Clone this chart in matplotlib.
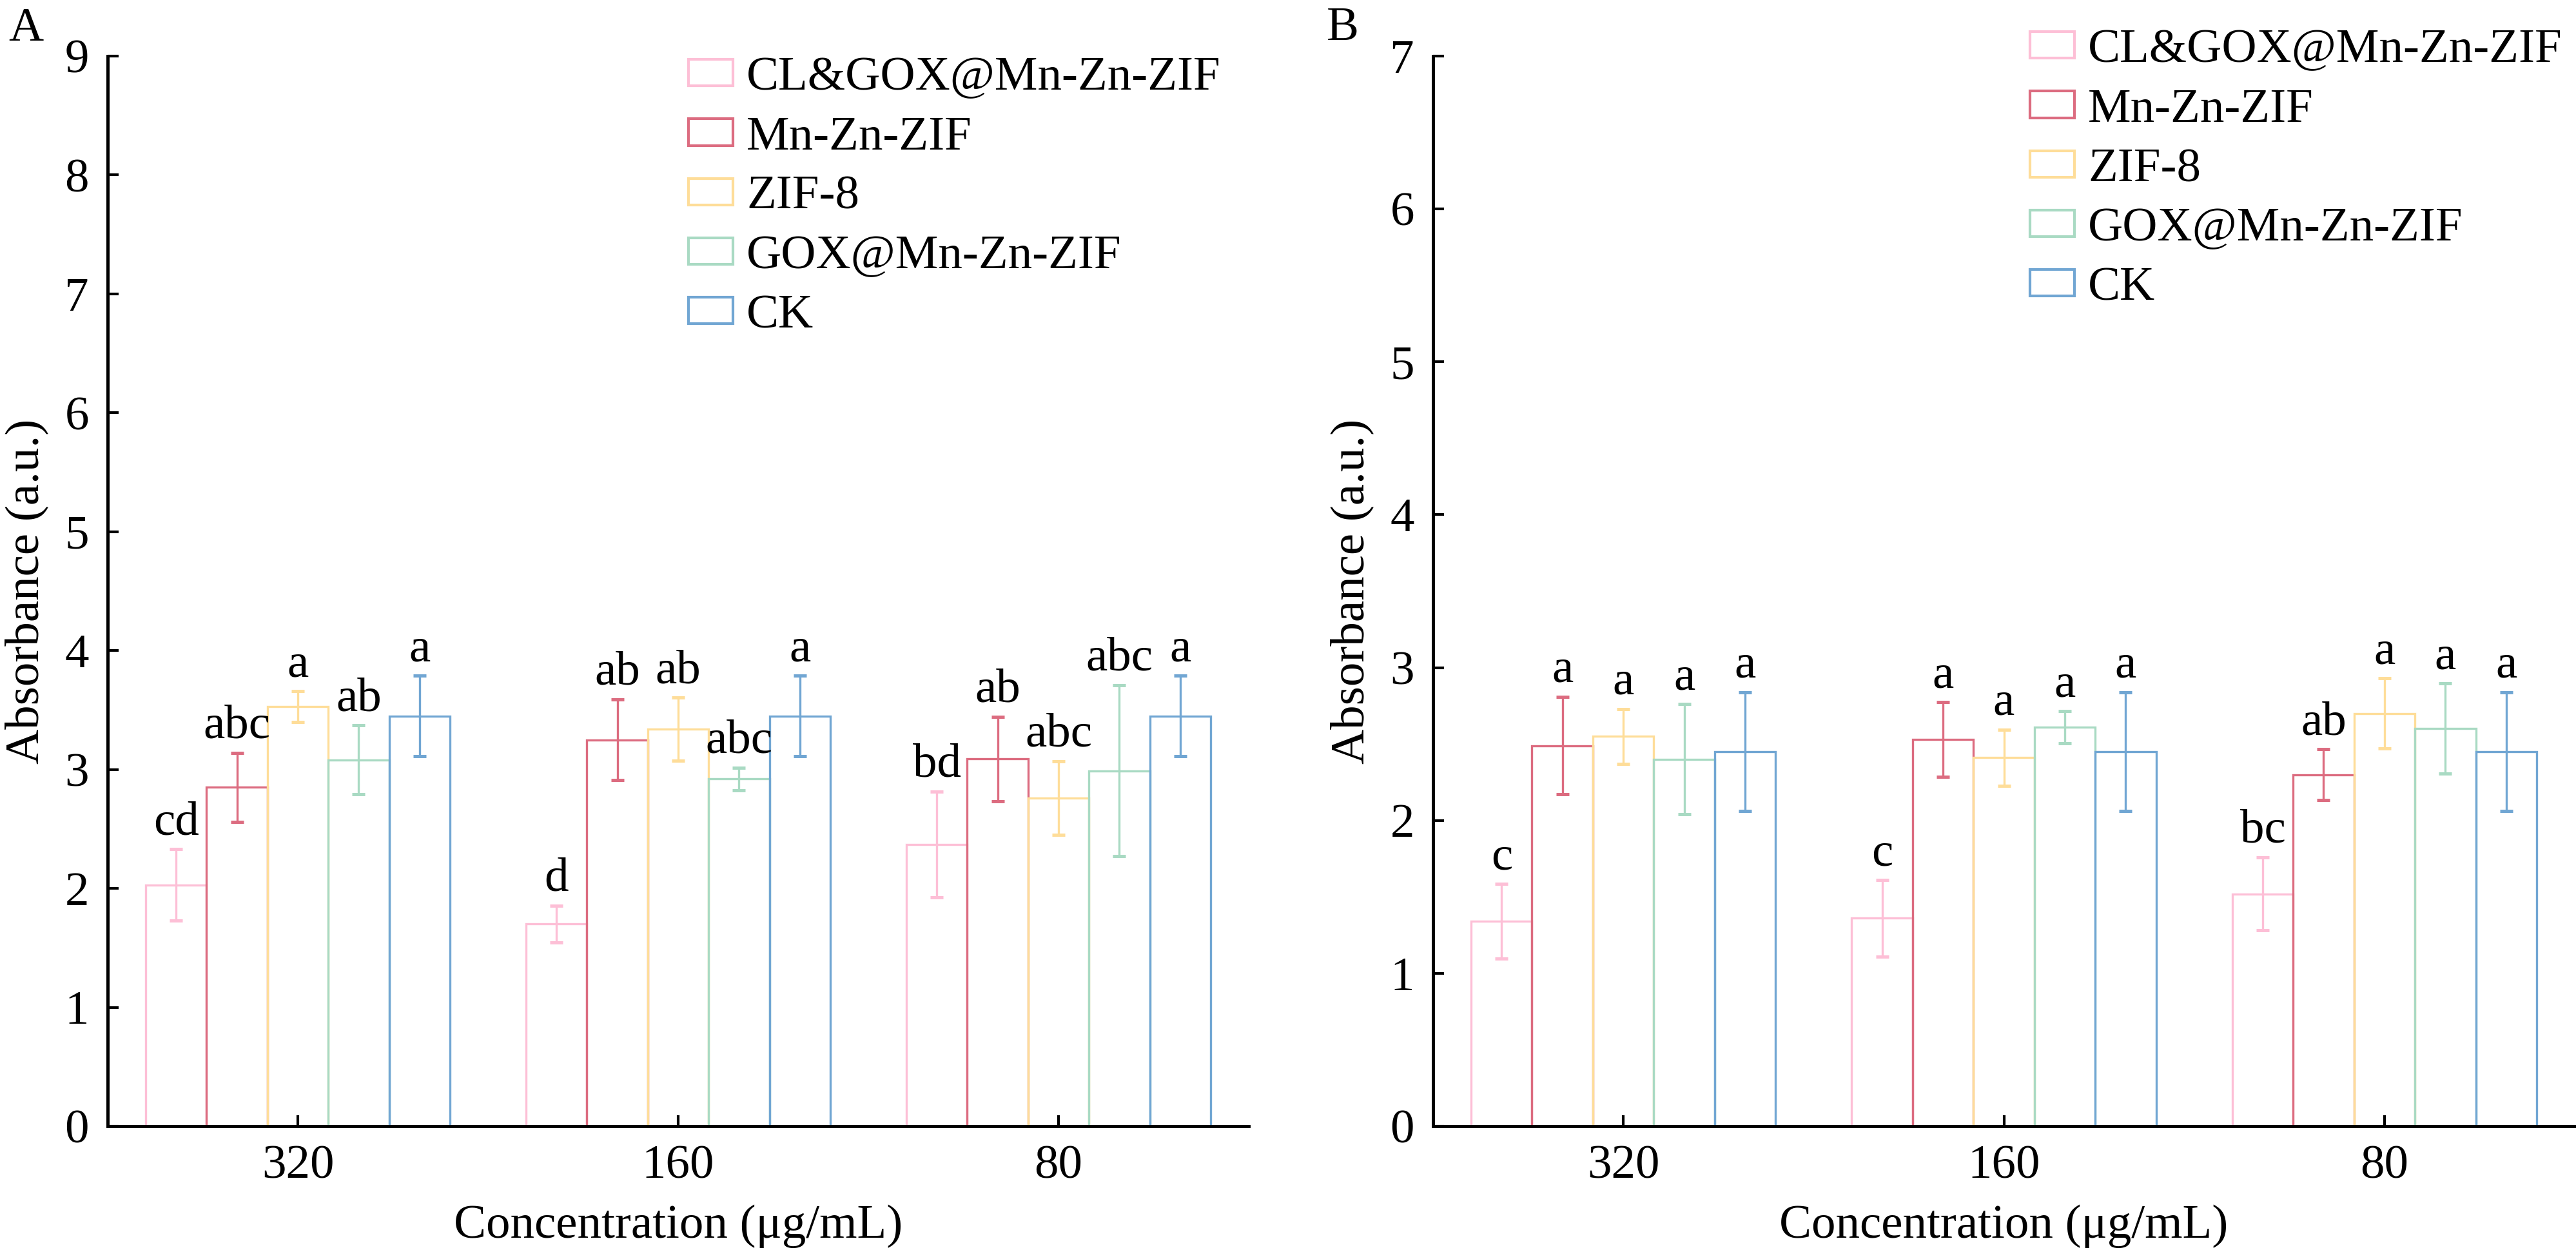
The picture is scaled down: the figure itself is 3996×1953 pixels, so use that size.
import matplotlib
matplotlib.use("Agg")
import matplotlib.pyplot as plt
import numpy as np

plt.rcParams['font.family'] = ['Liberation Serif', 'DejaVu Serif']
plt.rcParams['font.size'] = 18

groups = ['CL&GOX@Mn-Zn-ZIF', 'Mn-Zn-ZIF', 'ZIF-8', 'GOX@Mn-Zn-ZIF', 'CK']
colors = ['#FDBFD6', '#DC6C80', '#FEDD99', '#A9DAC3', '#71A6D3']
concentrations = ['320', '160', '80']

# panel A: rows = groups, columns = concentrations
meansA = [[2.03, 1.70, 2.37],
          [2.85, 3.25, 3.09],
          [3.53, 3.34, 2.76],
          [3.08, 2.92, 2.99],
          [3.45, 3.45, 3.45]]
errsA = [[0.30, 0.155, 0.445],
         [0.29, 0.34, 0.355],
         [0.13, 0.265, 0.31],
         [0.29, 0.095, 0.72],
         [0.34, 0.34, 0.34]]
lettersA = [['cd', 'd', 'bd'],
            ['abc', 'ab', 'ab'],
            ['a', 'ab', 'abc'],
            ['ab', 'abc', 'abc'],
            ['a', 'a', 'a']]

# panel B
meansB = [[1.34, 1.36, 1.52],
          [2.49, 2.53, 2.30],
          [2.55, 2.41, 2.70],
          [2.40, 2.61, 2.60],
          [2.45, 2.45, 2.45]]
errsB = [[0.245, 0.25, 0.24],
         [0.32, 0.245, 0.165],
         [0.18, 0.185, 0.23],
         [0.36, 0.105, 0.295],
         [0.39, 0.39, 0.39]]
lettersB = [['c', 'c', 'bc'],
            ['a', 'a', 'ab'],
            ['a', 'a', 'a'],
            ['a', 'a', 'a'],
            ['a', 'a', 'a']]

W, H = 3996, 1953
fig = plt.figure(figsize=(W / 300, H / 300), dpi=300)
axA = fig.add_axes([167 / W, 1 - 1747 / H, (1937 - 167) / W, (1747 - 87) / H])
axB = fig.add_axes([2223 / W, 1 - 1747 / H, (3994 - 2223) / W, (1747 - 87) / H])

x = np.arange(len(concentrations))
width = 0.16


def draw(ax, means, errs, letters, ymax, leg_anchor):
    for i, (m, e, lab, c) in enumerate(zip(means, errs, letters, colors)):
        pos = x + (i - 2) * width
        ax.bar(pos, m, width, facecolor='none', edgecolor=c, linewidth=0.8,
               label=groups[i])
        ax.errorbar(pos, m, yerr=e, fmt='none', ecolor=c, elinewidth=0.8,
                    capsize=2.4, capthick=1.2)
        for p, v, ee, t in zip(pos, m, e, lab):
            ax.annotate(t, (p, v + ee), xytext=(0, 5.5), textcoords='offset points',
                        ha='center', va='baseline', fontsize=18)
    ax.set_xlim(-0.5, 2.5)
    ax.set_ylim(0, ymax)
    ax.set_xticks(x)
    ax.set_xticklabels(concentrations)
    ax.set_yticks(range(ymax + 1))
    ax.spines['top'].set_visible(False)
    ax.spines['right'].set_visible(False)
    ax.spines['left'].set_linewidth(1.2)
    ax.spines['bottom'].set_linewidth(1.2)
    ax.tick_params(direction='in', length=4, width=1, labelsize=18, pad=7)
    ax.set_xlabel('Concentration (μg/mL)', fontsize=18, labelpad=6)
    ax.set_ylabel('Absorbance (a.u.)', fontsize=18, labelpad=6)
    leg = ax.legend(loc='upper left', bbox_to_anchor=leg_anchor,
                    bbox_transform=fig.transFigure, frameon=False, borderpad=0,
                    borderaxespad=0, handlelength=0.92, handleheight=0.47,
                    handletextpad=0.28, labelspacing=0.33, fontsize=18)
    for h in leg.legend_handles:
        h.set_linewidth(1.0)


draw(axA, meansA, errsA, lettersA, 9, (1068 / W, 1 - 88 / H))
draw(axB, meansB, errsB, lettersB, 7, (3149 / W, 1 - 45 / H))

fig.text(13 / W, 1 - 63 / H, 'A', fontsize=18, ha='left', va='baseline')
fig.text(2058 / W, 1 - 62 / H, 'B', fontsize=18, ha='left', va='baseline')

fig.savefig('out.png', dpi=300)
